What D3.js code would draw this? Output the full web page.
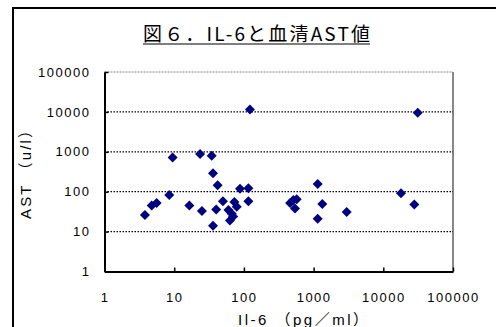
<!DOCTYPE html>
<html>
<head>
<meta charset="utf-8">
<script src="https://cdn.jsdelivr.net/npm/d3@7"></script>
<style>
  body { margin: 0; background: #fff; }
  svg { display: block; font-family: "Liberation Sans", Arial, "Noto Sans CJK JP", sans-serif; }
</style>
</head>
<body>
<div id="chart"></div>
<script>
// IL-6 (pg/ml) vs AST (u/l)
const il6 = [3.8, 4.75, 5.6, 8.5, 9.5, 16.5, 23.5, 25, 34.5, 36, 36, 40, 42, 50, 60, 63, 67, 70, 73, 79,
             88, 116, 116, 122, 460, 512, 541, 572, 1145, 1145, 1334, 2985, 17950, 27850, 31180];
const ast = [26, 45, 52, 83, 720, 45, 880, 33, 800, 14, 290, 36, 145, 58, 35, 19, 28, 24, 55, 42,
             118, 122, 58, 11500, 52, 62, 38, 65, 155, 21, 49, 31, 91, 48, 9500];
const xTicks = [1, 10, 100, 1000, 10000, 100000];
const yTicks = [1, 10, 100, 1000, 10000, 100000];
const gridVals = [10, 100, 1000, 10000];

const width = 496, height = 327;
const plot = { left: 104.5, right: 453, top: 72, bottom: 271.5 };

const svg = d3.select("#chart").append("svg")
    .attr("width", width)
    .attr("height", height);

// outer chart border (runs off the right and bottom of the picture)
svg.append("rect")
    .attr("x", 13).attr("y", 8)
    .attr("width", 520).attr("height", 340)
    .attr("fill", "#fff")
    .attr("stroke", "#000")
    .attr("stroke-width", 2);

const x = d3.scaleLog().domain([1, 100000]).range([plot.left, plot.right]);
const y = d3.scaleLog().domain([1, 100000]).range([plot.bottom, plot.top]);

// title
svg.append("text")
    .attr("x", 256.5).attr("y", 41)
    .attr("text-anchor", "middle")
    .attr("textLength", 227)
    .attr("lengthAdjust", "spacing")
    .style("font-size", "19px")
    .style("font-family", "'Noto Sans CJK JP', sans-serif")
    .text("図６．IL-6と血清AST値");
svg.append("line")
    .attr("x1", 143).attr("x2", 370)
    .attr("y1", 44).attr("y2", 44)
    .attr("stroke", "#000").attr("stroke-width", 1.2);

// plot frame: grey top and right
svg.append("line")
    .attr("x1", plot.left).attr("x2", plot.right)
    .attr("y1", y(100000)).attr("y2", y(100000))
    .attr("stroke", "#888").attr("stroke-width", 1)
    .attr("stroke-dasharray", "2,1");
svg.append("line")
    .attr("x1", plot.right).attr("x2", plot.right)
    .attr("y1", plot.top).attr("y2", plot.bottom)
    .attr("stroke", "#888").attr("stroke-width", 2);

// dotted gridlines
svg.selectAll("line.grid")
    .data(gridVals)
    .join("line")
    .attr("class", "grid")
    .attr("x1", plot.left).attr("x2", plot.right)
    .attr("y1", d => y(d)).attr("y2", d => y(d))
    .attr("stroke", "#000").attr("stroke-width", 1.3)
    .attr("stroke-dasharray", "1.5,1.5");

// axes
const xAxis = svg.append("g")
    .attr("transform", `translate(0,${plot.bottom})`)
    .call(d3.axisBottom(x).tickValues(xTicks).tickFormat(d3.format("d"))
        .tickSizeInner(-4).tickSizeOuter(0).tickPadding(21));
const yAxis = svg.append("g")
    .attr("transform", `translate(${plot.left},0)`)
    .call(d3.axisLeft(y).tickValues(yTicks).tickFormat(d3.format("d"))
        .tickSizeInner(-4).tickSizeOuter(0).tickPadding(14));

[xAxis, yAxis].forEach(g => {
    g.select(".domain").attr("stroke", "#000").attr("stroke-width", 2);
    g.selectAll(".tick line").attr("stroke", "#000").attr("stroke-width", 1.5);
    g.selectAll(".tick text")
        .attr("fill", "#000")
        .style("font-size", "13px")
        .style("letter-spacing", "1.5px")
        .style("font-family", "'Liberation Sans', Arial, sans-serif");
});

// markers
svg.append("g").selectAll("path")
    .data(il6.map((v, i) => [v, ast[i]]))
    .join("path")
    .attr("d", d3.symbol().type(d3.symbolSquare).size(50))
    .attr("transform", d => `translate(${x(d[0])},${y(d[1])}) rotate(45)`)
    .attr("fill", "#000080");

// axis titles
svg.append("text")
    .attr("transform", `translate(31,171) rotate(-90)`)
    .attr("text-anchor", "middle")
    .attr("textLength", 96)
    .attr("lengthAdjust", "spacing")
    .style("font-size", "15px")
    .text("AST （u/l）");
svg.append("text")
    .attr("x", 303).attr("y", 325)
    .attr("text-anchor", "middle")
    .attr("textLength", 130)
    .attr("lengthAdjust", "spacing")
    .style("font-size", "15px")
    .text("Il-6 （pg／ml）");
</script>
</body>
</html>
